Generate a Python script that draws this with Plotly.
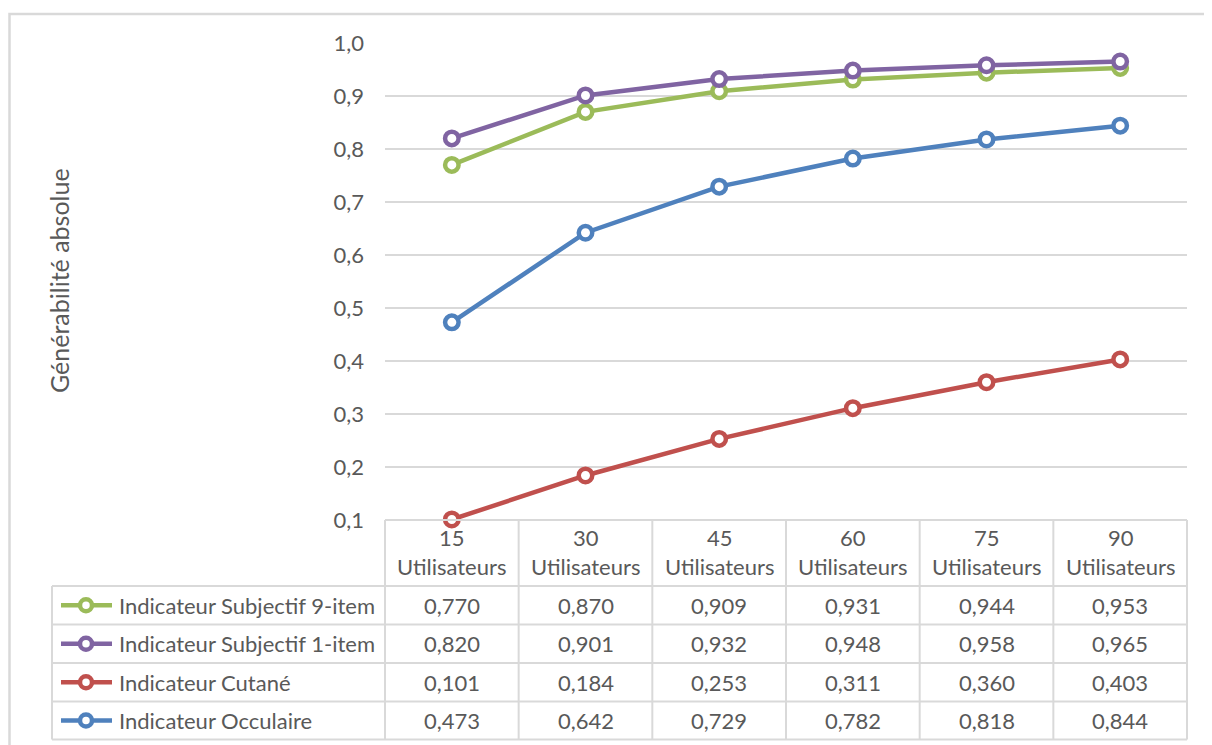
import plotly.graph_objects as go

# ---- data ----
categories = ["15", "30", "45", "60", "75", "90"]
category_suffix = "Utilisateurs"
series_names = [
    "Indicateur Subjectif 9-item",
    "Indicateur Subjectif 1-item",
    "Indicateur Cutané",
    "Indicateur Occulaire",
]
subjectif_9 = [0.770, 0.870, 0.909, 0.931, 0.944, 0.953]
subjectif_1 = [0.820, 0.901, 0.932, 0.948, 0.958, 0.965]
cutane = [0.101, 0.184, 0.253, 0.311, 0.360, 0.403]
occulaire = [0.473, 0.642, 0.729, 0.782, 0.818, 0.844]
series_values = [subjectif_9, subjectif_1, cutane, occulaire]
series_colors = ["#9BBB59", "#8064A2", "#C0504D", "#4F81BD"]
y_ticks = [0.1, 0.2, 0.3, 0.4, 0.5, 0.6, 0.7, 0.8, 0.9, 1.0]
y_title = "Générabilité absolue"

# ---- layout geometry (page pixels; page body has an 8px margin) ----
OX, OY = 8, 8
W, H = 1212 - OX, 745 - OY
L, R, T, B = 385, 1187, 43, 520
PW, PH = R - L, B - T
FONT = "Lato"
FS = 22
TXT = "#595959"
GRID = "#D9D9D9"

def px(x):
    return (x - L) / PW

def py(y):
    return (B - y) / PH

fig = go.Figure()
xs = list(range(len(categories)))
for name, vals, col in zip(series_names, series_values, series_colors):
    fig.add_trace(go.Scatter(
        x=xs, y=vals, name=name, mode="lines+markers",
        line=dict(color=col, width=4.5),
        marker=dict(symbol="circle", size=13.5, color="white",
                    line=dict(color=col, width=4.5)),
        showlegend=False, cliponaxis=False,
    ))

fig.update_layout(
    width=W, height=H,
    margin=dict(l=L - OX, r=W + OX - R, t=T - OY, b=H + OY - B, pad=0),
    paper_bgcolor="white", plot_bgcolor="white",
    font=dict(family=FONT, size=FS, color=TXT),
    xaxis=dict(range=[-0.5, len(categories) - 0.5], showticklabels=False,
               showgrid=False, zeroline=False, showline=False, ticks=""),
    yaxis=dict(range=[0.1, 1.0], tickvals=y_ticks,
               ticktext=[f"{v:.1f}".replace(".", ",") for v in y_ticks],
               showgrid=True, gridcolor=GRID, gridwidth=1.5,
               zeroline=False, showline=False, ticks="",
               ticklabelstandoff=20,
               tickfont=dict(family=FONT, size=FS, color=TXT)),
)

shapes = []
annotations = []

# outer chart border
shapes.append(dict(type="rect", xref="paper", yref="paper",
                   x0=px(9.5), x1=px(1240), y0=py(14), y1=py(790),
                   line=dict(color=GRID, width=2.5), fillcolor="rgba(0,0,0,0)", layer="below"))

# y-axis title
annotations.append(dict(text=y_title, xref="paper", yref="paper",
                        x=px(59), y=py(281), showarrow=False, textangle=-90,
                        font=dict(family=FONT, size=25, color=TXT),
                        xanchor="center", yanchor="middle"))

# data table geometry
row_edges = [520, 586, 624.5, 663, 701.5, 739.5]
col_w = PW / len(categories)
col_edges = [L + i * col_w for i in range(len(categories) + 1)]
LEG_L = 52
line_style = dict(color=GRID, width=2)

shapes.append(dict(type="line", xref="paper", yref="paper", x0=px(L), x1=px(R),
                   y0=py(row_edges[0]), y1=py(row_edges[0]), line=line_style))
for ry in row_edges[1:]:
    shapes.append(dict(type="line", xref="paper", yref="paper", x0=px(LEG_L), x1=px(R),
                       y0=py(ry), y1=py(ry), line=line_style))
for cx in col_edges:
    shapes.append(dict(type="line", xref="paper", yref="paper", x0=px(cx), x1=px(cx),
                       y0=py(row_edges[0]), y1=py(row_edges[-1]), line=line_style))
shapes.append(dict(type="line", xref="paper", yref="paper", x0=px(LEG_L), x1=px(LEG_L),
                   y0=py(row_edges[1]), y1=py(row_edges[-1]), line=line_style))

# header row (category labels)
for i, c in enumerate(categories):
    annotations.append(dict(text=f"{c}<br>{category_suffix}", x=i, xref="x",
                            y=py((row_edges[0] + row_edges[1]) / 2 - 1), yref="paper",
                            showarrow=False, xanchor="center", yanchor="middle",
                            font=dict(family=FONT, size=FS, color=TXT)))

# value rows + legend keys
for r, (name, vals, col) in enumerate(zip(series_names, series_values, series_colors)):
    yc = (row_edges[r + 1] + row_edges[r + 2]) / 2
    for i, v in enumerate(vals):
        annotations.append(dict(text=f"{v:.3f}".replace(".", ","), x=i, xref="x",
                                y=py(yc), yref="paper", showarrow=False,
                                xanchor="center", yanchor="middle",
                                font=dict(family=FONT, size=FS, color=TXT)))
    annotations.append(dict(text=name, x=px(117), xref="paper", y=py(yc), yref="paper",
                            showarrow=False, xanchor="left", yanchor="middle",
                            font=dict(family=FONT, size=FS, color=TXT)))
    shapes.append(dict(type="line", xref="paper", yref="paper", x0=px(61), x1=px(112),
                       y0=py(yc), y1=py(yc), line=dict(color=col, width=4.5)))
    shapes.append(dict(type="circle", xref="paper", yref="paper",
                       x0=px(80), x1=px(92), y0=py(yc - 6), y1=py(yc + 6),
                       line=dict(color=col, width=4.5), fillcolor="white"))

fig.update_layout(shapes=shapes, annotations=annotations)
fig.write_html("out.html")
